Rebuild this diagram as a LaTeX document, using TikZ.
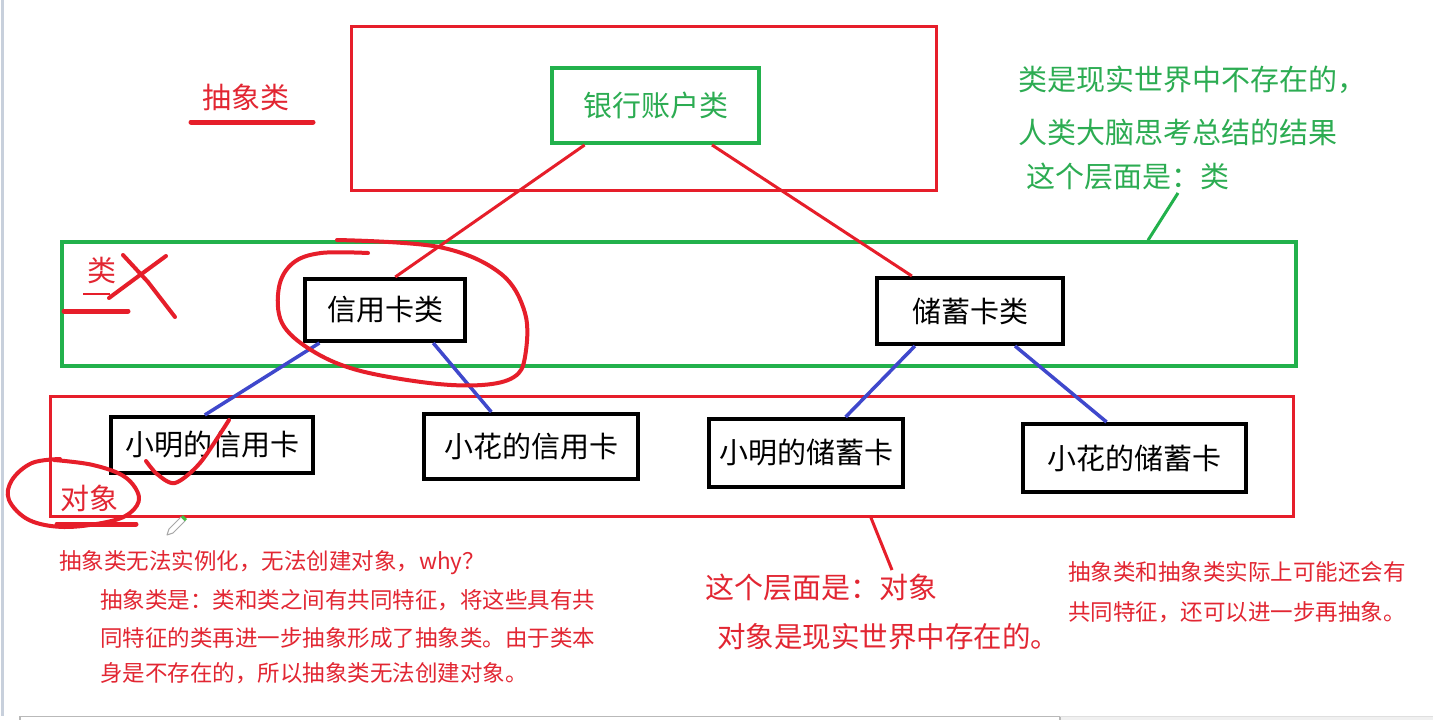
\documentclass[tikz,border=0pt]{standalone}
\usepackage{fontspec}
\setmainfont{Noto Sans CJK SC}
\usetikzlibrary{calc}
\definecolor{pred}{RGB}{230,30,42}
\definecolor{pgreen}{RGB}{34,177,76}
\definecolor{pblue}{RGB}{63,72,204}
\definecolor{tred}{RGB}{226,38,50}
\definecolor{tgreen}{RGB}{44,172,82}
\definecolor{edgegray}{RGB}{200,208,220}
\begin{document}
\begin{tikzpicture}[x=1pt,y=-1pt,
  redframe/.style={draw=pred, line width=3pt, inner sep=0pt},
  greenframe/.style={draw=pgreen, line width=3.5pt, inner sep=0pt},
  blackbox/.style={draw=black, line width=4pt, fill=white, inner sep=0pt, font=\fontsize{29}{34}\selectfont},
  redlink/.style={draw=pred, line width=3pt},
  bluelink/.style={draw=pblue, line width=3.5pt},
  pen/.style={draw=pred, line width=4pt, line cap=round, line join=round},
  bigtxt/.style={inner sep=0pt, font=\fontsize{29}{34}\selectfont},
  smalltxt/.style={inner sep=0pt, anchor=west, font=\fontsize{22.5}{27}\selectfont, text=tred},
  greentxt/.style={inner sep=0pt, anchor=west, font=\fontsize{29}{34}\selectfont, text=tgreen}
]
\useasboundingbox (0,0) rectangle (1433,720);
\fill[white] (0,0) rectangle (1433,720);
% screenshot edges
\draw[edgegray, line width=3pt] (2,0) -- (2,716);
\fill[gray!12] (1060,716) rectangle (1433,720);
\draw[gray!55, line width=1.5pt] (20,720) -- (20,716.5) -- (1060,716.5) -- (1060,720);
\draw[gray!25, line width=1pt] (1060,716.5) -- (1433,716.5);

% frames
\node[redframe, minimum width=585pt, minimum height=164pt] (abs) at (643.5,108) {};
\node[greenframe, minimum width=1234pt, minimum height=124pt] (clslayer) at (679,304) {};
\node[redframe, minimum width=1243pt, minimum height=120pt] (objlayer) at (671.5,456) {};

% boxes
\node[draw=pgreen, line width=4pt, fill=white, inner sep=0pt, minimum width=207pt, minimum height=75pt,
      font=\fontsize{29}{34}\selectfont, text=tgreen] (bank) at (655.5,105.5) {银行账户类};
\node[blackbox, minimum width=160pt, minimum height=62pt] (credit) at (385,310) {信用卡类};
\node[blackbox, minimum width=186pt, minimum height=66pt] (debit) at (970,311) {储蓄卡类};
\node[blackbox, minimum width=202pt, minimum height=56pt] (xmcredit) at (212,445) {小明的信用卡};
\node[blackbox, minimum width=214pt, minimum height=65pt] (xhcredit) at (531,446.5) {小花的信用卡};
\node[blackbox, minimum width=194pt, minimum height=68pt] (xmdebit) at (806,453) {小明的储蓄卡};
\node[blackbox, minimum width=223pt, minimum height=68pt] (xhdebit) at (1134.5,458) {小花的储蓄卡};

% connectors
\draw[redlink] ($(bank.south west)!0.164!(bank.south east)$) -- ($(credit.north west)!0.5625!(credit.north east)$);
\draw[redlink] ($(bank.south west)!0.768!(bank.south east)$) -- ($(debit.north west)!0.194!(debit.north east)$);
\draw[bluelink] ($(credit.south west)!0.1!(credit.south east)$) -- ($(xmcredit.north west)!0.465!(xmcredit.north east)$);
\draw[bluelink] ($(credit.south west)!0.794!(credit.south east)$) -- ($(xhcredit.north west)!0.318!(xhcredit.north east)$);
\draw[bluelink] ($(debit.south west)!0.21!(debit.south east)$) -- ($(xmdebit.north west)!0.70!(xmdebit.north east)$);
\draw[bluelink] ($(debit.south west)!0.737!(debit.south east)$) -- ($(xhdebit.north west)!0.377!(xhdebit.north east)$);

% labels
\node[bigtxt, text=tred] (abslabel) at (246,97) {抽象类};
\draw[pen, line width=5pt] (191,122) -- (313,122);
\node[bigtxt, text=tred] (clslabel) at (102,270) {类};
\draw[pred, line width=1.5pt] (83,294) -- (110,294);
\draw[pen] (123,255) -- (148,282) -- (175,317);
\draw[pen] (166,256) -- (136,278) -- (109,298);
\draw[pen, line width=5pt] (64,311) -- (128,311);
\node[bigtxt, text=tred] (objlabel) at (89,498) {对象};
\draw[pen, line width=5pt] (57,524) -- (136,524);

% hand-drawn loops
\draw[pen] plot[smooth, tension=0.6] coordinates {(337,240) (439,247) (500,273) (525,313) (525,357) (514,377) (482,385) (429,383) (357,370) (311,350) (282,323) (279,287) (293,263) (321,253) (368,253)};
\draw[pen] plot[smooth, tension=0.6] coordinates {(54,460) (93,465) (125,477) (139,497) (130,513) (107,522) (64,527) (29,520) (9,500) (12,480) (32,463) (60,459)};
\draw[pen] plot[smooth, tension=0.5] coordinates {(146,461) (157,474) (175,483) (200,463) (229,420)};

% pencil cursor
\draw[gray!70, line width=1pt, fill=white, line join=round] (167,535) -- (169,529) -- (181,517) -- (185,521) -- (173,533) -- cycle;
\fill[green!50!gray] (181,517) -- (183,515) -- (187,519) -- (185,521) -- cycle;

% green annotation
\node[greentxt] (g1) at (1018,80) {类是现实世界中不存在的，};
\node[greentxt] (g2) at (1018,132) {人类大脑思考总结的结果};
\node[greentxt] (g3) at (1026,177) {这个层面是：类};
\coordinate (gtip) at (1178,193);
\draw[pgreen, line width=3pt] ($(clslayer.north west)!0.879!(clslayer.north east)$) -- (gtip);

% red annotation
\coordinate (rtip) at (892,570);
\draw[pred, line width=3pt] ($(objlayer.south west)!0.66!(objlayer.south east)$) -- (rtip);
\node[inner sep=0pt, anchor=west, font=\fontsize{29}{34}\selectfont, text=tred] (r1) at (705,588) {这个层面是：对象};
\node[inner sep=0pt, anchor=west, font=\fontsize{28.5}{34}\selectfont, text=tred] (r2) at (717,637) {对象是现实世界中存在的。};

% bottom-left notes
\node[smalltxt] (b1) at (59,563) {抽象类无法实例化，无法创建对象，why？};
\node[smalltxt] (b2) at (100,600) {抽象类是：类和类之间有共同特征，将这些具有共};
\node[smalltxt] (b3) at (100,638) {同特征的类再进一步抽象形成了抽象类。由于类本};
\node[smalltxt] (b4) at (100,673) {身是不存在的，所以抽象类无法创建对象。};

% bottom-right notes
\node[smalltxt] (c1) at (1068,572) {抽象类和抽象类实际上可能还会有};
\node[smalltxt] (c2) at (1068,612) {共同特征，还可以进一步再抽象。};
\end{tikzpicture}
\end{document}
